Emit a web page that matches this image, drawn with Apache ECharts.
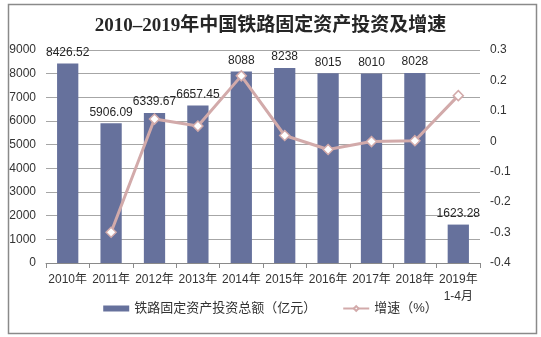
<!DOCTYPE html>
<html>
<head>
<meta charset="utf-8">
<script src="https://cdn.jsdelivr.net/npm/echarts@6/dist/echarts.min.js"></script>
<style>html,body{margin:0;padding:0;background:#fff;}#c{width:541px;height:337px;}</style>
</head>
<body>
<div id="c"></div>
<script>
var categories = ['2010年','2011年','2012年','2013年','2014年','2015年','2016年','2017年','2018年','2019年\n1-4月'];
var investment = [8426.52, 5906.09, 6339.67, 6657.45, 8088, 8238, 8015, 8010, 8028, 1623.28];
var growth = [null, -0.299, 0.073, 0.050, 0.215, 0.019, -0.027, -0.001, 0.002, 0.15];
var leftTicks = {min: 0, max: 9000, interval: 1000};
var rightTicks = {min: -0.4, max: 0.3, interval: 0.1};

var FONT = "'Liberation Sans', 'Noto Sans CJK SC', sans-serif";
var chart = echarts.init(document.getElementById('c'), null, {renderer: 'canvas'});
chart.setOption({
  animation: false,
  backgroundColor: '#fff',
  title: {
    text: '2010–2019年中国铁路固定资产投资及增速',
    left: 'center', top: 12,
    textStyle: {fontSize: 19, fontWeight: 'bold', color: '#262626', fontFamily: "'Liberation Serif', 'Noto Sans CJK SC', serif"}
  },
  graphic: [{
    type: 'rect', left: 6, top: 2, silent: true,
    shape: {width: 528, height: 329},
    style: {fill: 'none', stroke: '#8a8a8a', lineWidth: 1.5}
  }],
  legend: {
    bottom: 17, left: 'center', itemGap: 26, itemWidth: 26, itemHeight: 6,
    textStyle: {fontSize: 13, color: '#333', fontFamily: FONT},
    data: [{name: '铁路固定资产投资总额（亿元）', icon: 'rect'}, {name: '增速（%）'}]
  },
  grid: {left: 46, right: 61, top: 50, bottom: 74, containLabel: false},
  xAxis: {
    type: 'category', data: categories,
    axisLine: {lineStyle: {color: '#8a8a8a'}},
    axisTick: {show: true, interval: 0, length: 5, lineStyle: {color: '#8a8a8a'}},
    axisLabel: {interval: 0, fontSize: 12, color: '#333', fontFamily: FONT, margin: 8, lineHeight: 17}
  },
  yAxis: [{
    type: 'value', min: leftTicks.min, max: leftTicks.max, interval: leftTicks.interval,
    axisLine: {show: false}, axisTick: {show: false},
    axisLabel: {fontSize: 12, color: '#333', fontFamily: FONT, margin: 10,
      formatter: function (v) { return String(v); }},
    splitLine: {lineStyle: {color: '#a6a6a6'}}
  }, {
    type: 'value', min: rightTicks.min, max: rightTicks.max, interval: rightTicks.interval,
    axisLine: {show: false}, axisTick: {show: false},
    axisLabel: {fontSize: 12, color: '#333', fontFamily: FONT, margin: 10,
      formatter: function (v) { return String(Math.round(v * 10) / 10); }},
    splitLine: {show: false}
  }],
  series: [{
    name: '铁路固定资产投资总额（亿元）', type: 'bar', data: investment,
    barWidth: '49%', itemStyle: {color: '#66719c'},
    label: {show: true, position: 'top', distance: 5, fontSize: 12, color: '#262626', fontFamily: FONT}
  }, {
    name: '增速（%）', type: 'line', yAxisIndex: 1, data: growth,
    lineStyle: {color: '#d2aaaa', width: 3},
    itemStyle: {color: '#fff', borderColor: '#d2aaaa', borderWidth: 1.5},
    symbol: 'diamond', symbolSize: 10, showAllSymbol: true, connectNulls: false,
    z: 5
  }]
});
</script>
</body>
</html>
